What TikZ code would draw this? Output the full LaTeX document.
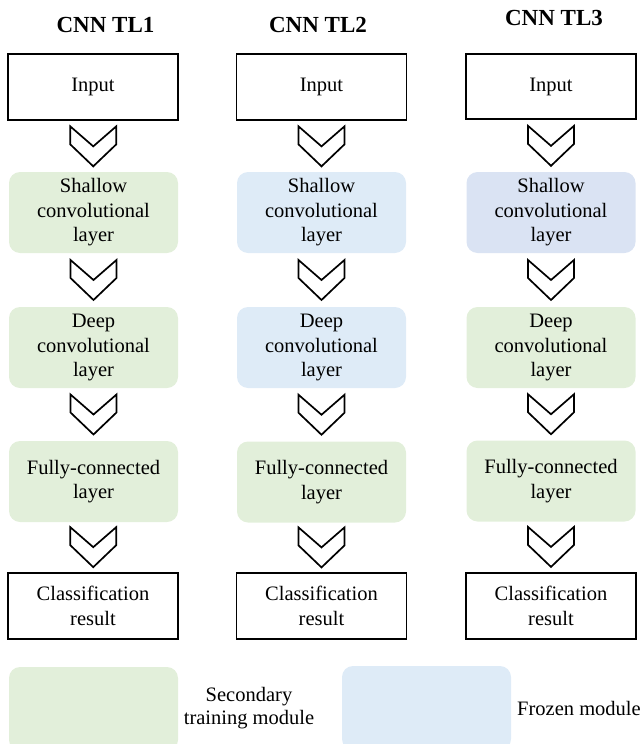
\documentclass[tikz,border=0pt]{standalone}
\usepackage{fontspec}
\setmainfont{Liberation Serif}
\usetikzlibrary{calc}

\definecolor{trainGreen}{HTML}{E2EFDA}
\definecolor{frozenBlue}{HTML}{DEEBF7}
\definecolor{frozenBlueB}{HTML}{DAE3F3}

\tikzset{
  box/.style={draw, line width=1.8pt, minimum width=170pt, align=center},
  layerbox/.style={rounded corners=11pt, minimum width=169pt, minimum height=81pt, align=center},
  title/.style={font=\fontsize{23}{26}\selectfont\bfseries, anchor=base},
  chevron/.pic={\draw[line width=1.7pt, line join=miter]
    (-23,-20) -- (0,0) -- (23,-20) -- (23,-2) -- (0,20) -- (-23,-2) -- cycle;}
}

\begin{document}
\begin{tikzpicture}[x=1pt,y=-1pt,font=\fontsize{20.5}{24.5}\selectfont]
  \useasboundingbox (0,0) rectangle (643,744);

  % titles
  \node[title] (t1) at (105.5,32) {CNN TL1};
  \node[title] (t2) at (318,32) {CNN TL2};
  \node[title] (t3) at (554,25) {CNN TL3};

  % column 1
  \node[box, minimum height=66pt] (in1) at (93,87) {Input};
  \node[layerbox, fill=trainGreen] (sh1) at (93.5,212.5) {Shallow\\convolutional\\layer};
  \node[layerbox, fill=trainGreen] (dp1) at (93.5,347.5) {Deep\\convolutional\\layer};
  \node[layerbox, fill=trainGreen] (fc1) at (93.5,481.5) {Fully-connected\\layer};
  \node[box, minimum height=66pt] (cl1) at (93,606) {Classification\\result};

  % column 2
  \node[box, minimum height=66pt] (in2) at (321.5,87) {Input};
  \node[layerbox, fill=frozenBlue] (sh2) at (321.5,212.5) {Shallow\\convolutional\\layer};
  \node[layerbox, fill=frozenBlue] (dp2) at (321.5,347.5) {Deep\\convolutional\\layer};
  \node[layerbox, fill=trainGreen] (fc2) at (321.5,482) {Fully-connected\\layer};
  \node[box, minimum height=66pt] (cl2) at (321.5,606) {Classification\\result};

  % column 3
  \node[box, minimum height=65pt] (in3) at (551,86.5) {Input};
  \node[layerbox, fill=frozenBlueB] (sh3) at (551,212.5) {Shallow\\convolutional\\layer};
  \node[layerbox, fill=trainGreen] (dp3) at (551,347.5) {Deep\\convolutional\\layer};
  \node[layerbox, fill=trainGreen] (fc3) at (551,481) {Fully-connected\\layer};
  \node[box, minimum height=66pt] (cl3) at (551,606) {Classification\\result};

  % chevrons between the stages
  \foreach \c in {1,2,3} {
    \pic at ($(in\c.south)!0.5!(sh\c.north)$) {chevron};
    \pic at ($(sh\c.south)!0.5!(dp\c.north)$) {chevron};
    \pic at ($(dp\c.south)!0.5!(fc\c.north)$) {chevron};
    \pic at ($(fc\c.south)!0.5!(cl\c.north)$) {chevron};
  }

  % legend
  \node[layerbox, fill=trainGreen, minimum height=84pt] (leg1) at (93.5,709) {};
  \node[align=center] (leg1txt) at (249,708) {Secondary\\[-2pt]training module};
  \node[layerbox, fill=frozenBlue, minimum height=84pt] (leg2) at (426.5,708) {};
  \node (leg2txt) at (579,708) {Frozen module};
\end{tikzpicture}
\end{document}
